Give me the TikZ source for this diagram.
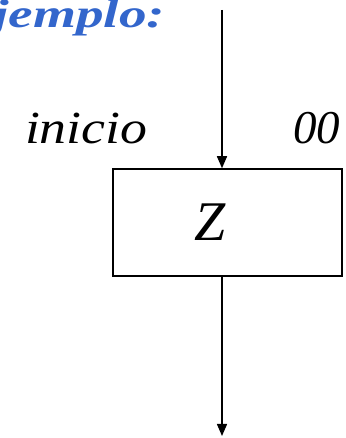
\documentclass[tikz,border=0pt]{standalone}
\usepackage{fontspec}
\setmainfont{Liberation Serif}[
  ItalicFont={* Italic},
  BoldFont={* Bold},
  BoldItalicFont={* Bold Italic}]
\usetikzlibrary{arrows.meta}
\definecolor{titleblue}{RGB}{51,102,204}
\tikzset{
  arr/.style={line width=1.4pt, draw=black, -{Triangle[width=10pt,length=12pt]}},
  boxstyle/.style={draw=black, line width=1.5pt, minimum width=229pt, minimum height=107pt, inner sep=0pt},
  txt/.style={inner sep=0pt, outer sep=0pt}
}
\begin{document}
\begin{tikzpicture}[x=1pt,y=1pt]
\useasboundingbox (0,0) rectangle (345,438);
\clip (0,0) rectangle (345,438);
\node[txt, anchor=base east, text=titleblue] (title) at (165,410)
  {\scalebox{1.38}[1]{\fontsize{40}{44}\selectfont\bfseries\itshape Ejemplo:}};
\node[txt, anchor=base west] (inicio) at (25,294.5)
  {\scalebox{1.17}[1]{\fontsize{46}{50}\selectfont\itshape inicio}};
\node[txt, anchor=base east] (cero) at (340,294.5)
  {\fontsize{47}{52}\selectfont\itshape 00};
\node[boxstyle] (box) at (227.5,215.5) {};
\node[txt, anchor=base] (z) at (210,197) {\fontsize{56}{60}\selectfont\itshape Z};
\coordinate (top) at (222,428);
\coordinate (bot) at (222,2);
\draw[arr] (top) -- (top |- box.north);
\draw[arr] (top |- box.south) -- (bot);
\end{tikzpicture}
\end{document}
